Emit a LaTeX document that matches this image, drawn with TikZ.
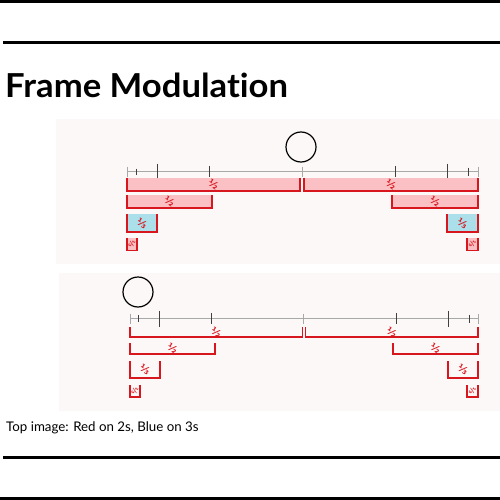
\documentclass[tikz,border=0pt]{standalone}
\usepackage{fontspec}
\setmainfont{Lato}[Ligatures=NoCommon]
\newfontfamily\fracfont{DejaVu Sans}
\usetikzlibrary{positioning}

\definecolor{markred}{HTML}{D8161E}
\definecolor{twofill}{HTML}{FBC0C3}
\definecolor{threefill}{HTML}{ABDFEA}
\definecolor{panelbg}{HTML}{FDF8F8}
\definecolor{rulegray}{HTML}{A8A8A8}
\definecolor{tickdark}{HTML}{404040}

% one span of held frames: x1, x2, top, bottom, fill, label, name, label style
\newcommand{\frspan}[8]{%
  \fill[#5] (#1,#3) rectangle (#2,#4);
  \draw[bracket] (#1,#3) -- (#1,#4) -- (#2,#4) -- (#2,#3);
  \node[#8] (#7) at ({(#1+#2)/2},{(#3+#4)/2}) {#6};}

\begin{document}
\begin{tikzpicture}[
  x=1pt, y=-1pt,
  rule/.style={draw=rulegray, line width=1pt},
  tick/.style={draw=tickdark, line width=1pt},
  endtick/.style={draw=rulegray, line width=1pt},
  bracket/.style={draw=markred, line width=1.6pt},
  frac/.style={text=markred, font=\fracfont\fontsize{10}{10}\selectfont\bfseries, inner sep=0pt, rotate=-35},
  tinyfrac/.style={frac, font=\fracfont\fontsize{7}{7}\selectfont\bfseries, rotate=-80},
  head/.style={circle, draw=black, line width=1.2pt, minimum size=30pt, inner sep=0pt},
  sepline/.style={draw=black}
]
\useasboundingbox (0,0) rectangle (500,500);
\fill[white] (0,0) rectangle (500,500);

% page rules
\fill[black] (0,0) rectangle (500,3.5);
\draw[sepline, line width=3pt] (3,42.5) -- (500,42.5);
\draw[sepline, line width=2.4pt] (3,457.5) -- (500,457.5);
\fill[black] (0,496.5) rectangle (500,500);

\node[anchor=base west, inner sep=0pt, font=\fontsize{33}{33}\selectfont\bfseries, xscale=1.05] (title) at (5,98) {Frame Modulation};

% -- top panel --
\fill[panelbg] (56,119) rectangle (500,264);
\node[head] (headtop) at (301,147) {};
\draw[rule] (127,171.5) -- (478,171.5);
\foreach \x in {127,302,478}
  \draw[endtick] (\x,166.5) -- (\x,176.5);
\foreach \x/\h in {136/3, 157/8, 209/5.5, 395/5.5, 447/8, 468/4}
  \draw[tick] (\x,{171.5-\h}) -- (\x,{171.5+\h});

\frspan{127}{300}{177.5}{191}{twofill}{½}{tAL}{frac}
\frspan{304}{478}{177.5}{191}{twofill}{½}{tAR}{frac}
\frspan{127}{212}{195}{208}{twofill}{½}{tBL}{frac}
\frspan{392}{478}{195}{208}{twofill}{½}{tBR}{frac}
\frspan{127}{157}{214}{232}{threefill}{⅓}{tCL}{frac}
\frspan{447}{478}{214}{232}{threefill}{⅓}{tCR}{frac}
\frspan{127}{137}{238}{250.5}{twofill}{⅓}{tDL}{tinyfrac}
\frspan{467}{478}{238}{250.5}{twofill}{⅓}{tDR}{tinyfrac}

% -- bottom panel --
\fill[panelbg] (59,273) rectangle (500,411);
\node[head] (headbot) at (138,292) {};
\draw[rule] (130,318.5) -- (478,318.5);
\foreach \x in {130,303,478}
  \draw[endtick] (\x,313.5) -- (\x,323.5);
\foreach \x/\h in {138/3.5, 159/8, 211/5.5, 396/5.5, 448/8, 469/4}
  \draw[tick] (\x,{318.5-\h}) -- (\x,{318.5+\h});

\frspan{130}{302.5}{327}{337}{panelbg}{½}{bAL}{frac}
\frspan{305.5}{478}{327}{337}{panelbg}{½}{bAR}{frac}
\frspan{130}{215}{343}{354}{panelbg}{½}{bBL}{frac}
\frspan{393}{478}{343}{354}{panelbg}{½}{bBR}{frac}
\frspan{130}{160}{361}{378}{panelbg}{⅓}{bCL}{frac}
\frspan{448}{478}{361}{378}{panelbg}{⅓}{bCR}{frac}
\frspan{130}{140}{385}{397}{panelbg}{⅓}{bDL}{tinyfrac}
\frspan{467}{478}{385}{397}{panelbg}{⅓}{bDR}{tinyfrac}

\node[anchor=west, inner sep=0pt, font=\fontsize{13.3}{14}\selectfont] (caption) at (6,428) {Top image: Red on 2s, Blue on 3s};
\end{tikzpicture}
\end{document}
